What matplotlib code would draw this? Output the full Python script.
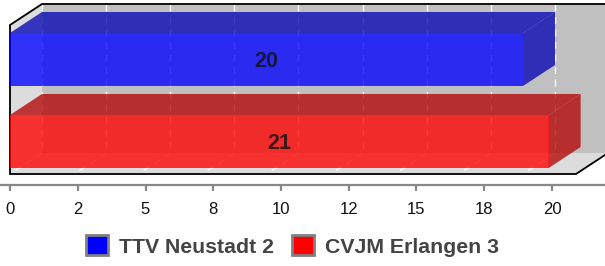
import matplotlib
matplotlib.use("Agg")
import matplotlib.pyplot as plt
from matplotlib.patches import Polygon, Patch

plt.rcParams['font.family'] = ['Liberation Sans', 'DejaVu Sans']

teams = ["TTV Neustadt 2", "CVJM Erlangen 3"]
values = [20, 21]
face_colors = ["#0000ff", "#ff0000"]
dark_colors = ["#0a0ab4", "#b40a0a"]
tick_values = [0, 2.5, 5, 7.5, 10, 12.5, 15, 17.5, 20]
tick_labels = ["0", "2", "5", "8", "10", "12", "15", "18", "20"]

W, H = 605, 266
fig = plt.figure(figsize=(W / 100, H / 100), dpi=100)

# main 3D-like plot area: x in data units, y in category units
px_per_unit = 25.65
x0_px = 10
ax = fig.add_axes([0, 0, 1, 1])
ax.set_xlim(-x0_px / px_per_unit, (W - x0_px) / px_per_unit)
cat_px = 82.0
c0_px = 59.5
ax.set_ylim((H - c0_px) / cat_px, -c0_px / cat_px)
ax.axis("off")

dx = 32 / px_per_unit          # depth offset in x (data units)
dy = -21 / cat_px              # depth offset in y (category units)
top_f = (25 - c0_px) / cat_px  # front top
floor_f = (174 - c0_px) / cat_px
xmax = (W - x0_px) / px_per_unit + 0.5
floor_end = (576 - x0_px) / px_per_unit

# back wall
ax.add_patch(Polygon([(dx, top_f + dy), (xmax, top_f + dy), (xmax, floor_f + dy), (dx, floor_f + dy)],
                     closed=True, facecolor="#c0c0c0", edgecolor="none", zorder=1))
# left wall
ax.add_patch(Polygon([(0, top_f), (dx, top_f + dy), (dx, floor_f + dy), (0, floor_f)],
                     closed=True, facecolor="#dcdcdc", edgecolor="none", zorder=1))
# floor
ax.add_patch(Polygon([(0, floor_f), (floor_end, floor_f), (floor_end + dx, floor_f + dy), (dx, floor_f + dy)],
                     closed=True, facecolor="#dcdcdc", edgecolor="none", zorder=1))

# grid lines
for t in tick_values:
    ax.plot([t + dx, t + dx], [top_f + dy, floor_f + dy], color="white", lw=1, ls=(0, (5, 4)), zorder=2)
    ax.plot([t + dx, t], [floor_f + dy, floor_f], color="white", lw=1, ls=(0, (5, 4)), zorder=2)

# outline
ax.plot([xmax, dx, 0, 0, floor_end, floor_end + dx], [top_f + dy, top_f + dy, top_f, floor_f, floor_f, floor_f + dy],
        color="black", lw=1.3, zorder=3, solid_joinstyle="miter")

# bars
half = 53 / cat_px / 2
for i, (v, fc, dc) in enumerate(zip(values, face_colors, dark_colors)):
    c = i
    yt, yb = c - half, c + half
    ax.add_patch(Polygon([(0, yt), (v, yt), (v + dx, yt + dy), (dx, yt + dy)],
                         closed=True, facecolor=dc, alpha=0.8, edgecolor="none", zorder=4))
    ax.add_patch(Polygon([(v, yt), (v + dx, yt + dy), (v + dx, yb + dy), (v, yb)],
                         closed=True, facecolor=dc, alpha=0.8, edgecolor="none", zorder=4))
    ax.add_patch(Polygon([(0, yt), (v, yt), (v, yb), (0, yb)],
                         closed=True, facecolor=fc, alpha=0.78, edgecolor="none", zorder=5))
    ax.text(v / 2, c - 0.005, str(v), ha="center", va="center_baseline", fontsize=15.5, fontweight="bold",
            color="#111111", alpha=0.8, zorder=6)

# separate value axis below
axis_px_per_unit = 27.1
ax2 = fig.add_axes([0, 1 - 185 / H, 1, 0.0001])
ax2.set_xlim(-x0_px / axis_px_per_unit, (W - x0_px) / axis_px_per_unit)
ax2.set_facecolor("none")
for s in ["top", "left", "right"]:
    ax2.spines[s].set_visible(False)
ax2.spines["bottom"].set_color("#888888")
ax2.spines["bottom"].set_linewidth(1.6)
ax2.set_yticks([])
ax2.set_xticks(tick_values)
ax2.set_xticklabels(tick_labels)
ax2.tick_params(axis="x", direction="out", length=4, width=1.6, color="#888888",
                pad=8, labelsize=12, labelcolor="#111111")

# legend
handles = [Patch(facecolor=c, edgecolor="#808080", linewidth=2, label=t) for t, c in zip(teams, face_colors)]
leg = fig.legend(handles=handles, loc="center", bbox_to_anchor=(0.483, 1 - 246 / H), ncol=2,
                 frameon=False, prop={"weight": "bold", "size": 15.3},
                 handlelength=1.05, handleheight=1.05, handletextpad=0.5, columnspacing=0.85)
for t in leg.get_texts():
    t.set_color("#444444")

fig.savefig("out.png", dpi=100)
